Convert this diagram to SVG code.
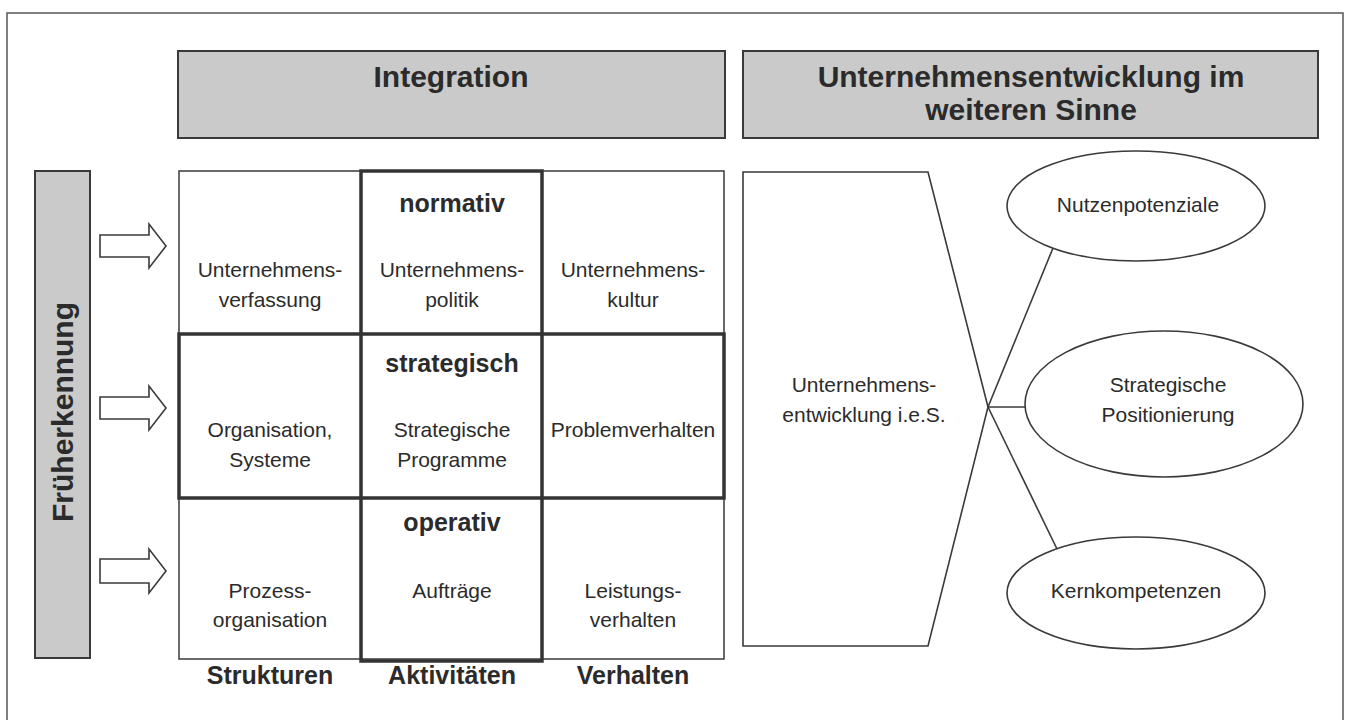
<svg xmlns="http://www.w3.org/2000/svg" width="1346" height="720" viewBox="0 0 1346 720">
<style>
.reg{font-family:"Liberation Sans",Arial,sans-serif;font-size:21px;fill:#2b2b2b;text-anchor:middle}
.lbl{font-family:"Liberation Sans",Arial,sans-serif;font-size:25px;font-weight:bold;fill:#2b2b2b;text-anchor:middle}
.hdr{font-family:"Liberation Sans",Arial,sans-serif;font-size:30px;font-weight:bold;fill:#2b2b2b;text-anchor:middle}
.gray{fill:#cacaca;stroke:#3a3a3a;stroke-width:2}
.bold{fill:none;stroke:#333;stroke-width:3.5}
.shape{fill:#fff;stroke:#3a3a3a;stroke-width:1.6}
.conn{fill:none;stroke:#3a3a3a;stroke-width:1.6}
</style>
<rect width="1346" height="720" fill="#fff"/>
<rect id="frame" x="7" y="13" width="1336" height="720" fill="none" stroke="#555" stroke-width="1.5"/>

<g id="header-integration">
<rect class="gray" x="178" y="51" width="547" height="87"/>
<text class="hdr" x="451" y="87">Integration</text>
</g>
<g id="header-ue">
<rect class="gray" x="743" y="51" width="575" height="87"/>
<text class="hdr" x="1031" y="87">Unternehmensentwicklung im</text>
<text class="hdr" x="1031" y="120">weiteren Sinne</text>
</g>

<g id="frueherkennung">
<rect class="gray" x="35" y="171" width="55" height="487"/>
<text class="hdr" x="73" y="412" transform="rotate(-90 73 412)">Früherkennung</text>
</g>

<g id="arrows">
<polygon class="shape" points="100,235 149,235 149,224 166,246 149,268 149,257 100,257"/>
<polygon class="shape" points="100,397 149,397 149,386 166,408 149,430 149,419 100,419"/>
<polygon class="shape" points="100,559 149,559 149,549 166,571 149,593 149,583 100,583"/>
</g>

<g id="matrix">
<rect x="179" y="171" width="545" height="488" fill="#fff" stroke="#3a3a3a" stroke-width="1.5"/>
<rect class="bold" x="361" y="171" width="181" height="490"/>
<rect class="bold" x="179" y="334" width="545" height="164"/>
</g>

<g id="cell-r1c1"><text class="reg" x="270" y="277">Unternehmens-</text><text class="reg" x="270" y="307">verfassung</text></g>
<g id="cell-r1c2"><text class="lbl" x="452" y="212">normativ</text><text class="reg" x="452" y="277">Unternehmens-</text><text class="reg" x="452" y="307">politik</text></g>
<g id="cell-r1c3"><text class="reg" x="633" y="277">Unternehmens-</text><text class="reg" x="633" y="307">kultur</text></g>
<g id="cell-r2c1"><text class="reg" x="270" y="437">Organisation,</text><text class="reg" x="270" y="467">Systeme</text></g>
<g id="cell-r2c2"><text class="lbl" x="452" y="372">strategisch</text><text class="reg" x="452" y="437">Strategische</text><text class="reg" x="452" y="467">Programme</text></g>
<g id="cell-r2c3"><text class="reg" x="633" y="437">Problemverhalten</text></g>
<g id="cell-r3c1"><text class="reg" x="270" y="598">Prozess-</text><text class="reg" x="270" y="627">organisation</text></g>
<g id="cell-r3c2"><text class="lbl" x="452" y="531">operativ</text><text class="reg" x="452" y="598">Aufträge</text></g>
<g id="cell-r3c3"><text class="reg" x="633" y="598">Leistungs-</text><text class="reg" x="633" y="627">verhalten</text></g>

<g id="col-labels">
<text class="lbl" x="270" y="684">Strukturen</text>
<text class="lbl" x="452" y="684">Aktivitäten</text>
<text class="lbl" x="633" y="684">Verhalten</text>
</g>

<g id="ue-ies">
<polygon class="shape" points="743,172 928,172 988,407 928,646 743,646"/>
<text class="reg" x="864" y="392">Unternehmens-</text>
<text class="reg" x="864" y="422">entwicklung i.e.S.</text>
</g>

<g id="connectors">
<line class="conn" x1="988" y1="407" x2="1053" y2="248"/>
<line class="conn" x1="988" y1="407" x2="1026" y2="407"/>
<line class="conn" x1="988" y1="407" x2="1057" y2="549"/>
</g>

<g id="nutzenpotenziale">
<ellipse class="shape" cx="1136" cy="206" rx="129" ry="55"/>
<text class="reg" x="1138" y="212">Nutzenpotenziale</text>
</g>
<g id="positionierung">
<ellipse class="shape" cx="1164" cy="404" rx="139" ry="73"/>
<text class="reg" x="1168" y="392">Strategische</text>
<text class="reg" x="1168" y="422">Positionierung</text>
</g>
<g id="kernkompetenzen">
<ellipse class="shape" cx="1136" cy="593" rx="129" ry="56"/>
<text class="reg" x="1136" y="598">Kernkompetenzen</text>
</g>
</svg>
